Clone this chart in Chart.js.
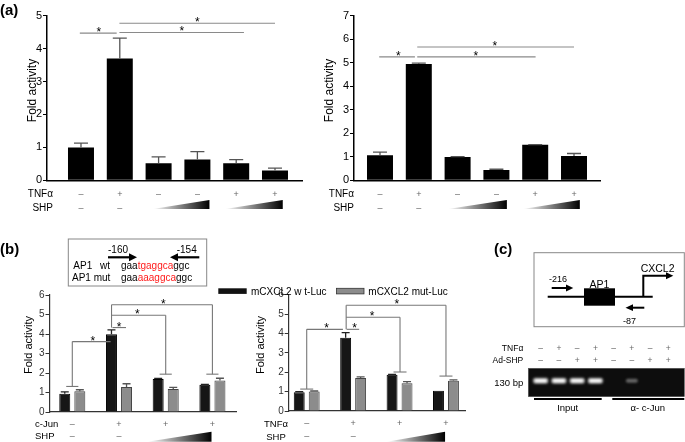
<!DOCTYPE html>
<html>
<head>
<meta charset="utf-8">
<script src="https://cdn.jsdelivr.net/npm/chart.js@4/dist/chart.umd.min.js"></script>
<style>
  body { margin: 0; background: #fff; }
  #page { position: relative; width: 685px; height: 442px; overflow: hidden; }
  canvas, svg { position: absolute; }
</style>
</head>
<body>
<div id="page">
  <canvas id="aLeft" width="340" height="225" style="left:0;top:0"></canvas>
  <canvas id="aRight" width="370" height="225" style="left:315px;top:0"></canvas>
  <canvas id="bLeft" width="240" height="157" style="left:0;top:285px"></canvas>
  <canvas id="bRight" width="230" height="157" style="left:240px;top:285px"></canvas>

  <svg width="685" height="442" style="left:0;top:0" font-family="Liberation Sans, Arial, sans-serif">
    <defs>
      <filter id="glow" x="-50%" y="-100%" width="200%" height="300%"><feGaussianBlur stdDeviation="0.9"/></filter>
    </defs>
    <text x="0" y="14.5" font-size="15" font-weight="bold">(a)</text>
    <text x="0" y="254" font-size="15" font-weight="bold">(b)</text>
    <text x="494" y="254" font-size="15" font-weight="bold">(c)</text>

    <!-- legend of panel b -->
    <rect x="218.3" y="288.3" width="28.4" height="5.6" fill="#111"/>
    <text id="leg0" x="251" y="294.8" font-size="10"></text>
    <rect x="336.5" y="288.3" width="27.5" height="5.6" fill="#8c8c8c" stroke="#333" stroke-width="0.8"/>
    <text id="leg1" x="368.3" y="294.8" font-size="10"></text>

    <!-- AP1 site inset -->
    <rect x="68.3" y="239" width="138.4" height="47" fill="none" stroke="#888" stroke-width="1"/>
    <text x="108" y="252.5" font-size="10">-160</text>
    <line x1="108" y1="257.3" x2="130" y2="257.3" stroke="#000" stroke-width="2.2"/>
    <polygon points="129,253.3 137,257.3 129,261.3"/>
    <text x="176.7" y="252.5" font-size="10">-154</text>
    <line x1="177" y1="257.3" x2="199.3" y2="257.3" stroke="#000" stroke-width="2.2"/>
    <polygon points="178,253.3 170,257.3 178,261.3"/>
    <text x="73.3" y="269.2" font-size="10">AP1</text>
    <text x="100" y="269.2" font-size="10">wt</text>
    <text x="121" y="269.2" font-size="10">gaa<tspan fill="#ff1a1a">tgaggca</tspan>ggc</text>
    <text x="72" y="280.8" font-size="10">AP1 mut</text>
    <text x="121" y="280.8" font-size="10">gaa<tspan fill="#ff1a1a">aaaggca</tspan>ggc</text>

    <!-- panel c promoter diagram -->
    <rect x="534" y="252.7" width="150.3" height="74" fill="none" stroke="#888" stroke-width="1"/>
    <line x1="547.7" y1="296.7" x2="652.7" y2="296.7" stroke="#000" stroke-width="2"/>
    <rect x="584" y="288.3" width="31" height="17.4" fill="#000"/>
    <text x="599.5" y="287.8" font-size="10.5" text-anchor="middle">AP1</text>
    <text x="549" y="281.5" font-size="9">-216</text>
    <line x1="551.7" y1="288" x2="567" y2="288" stroke="#000" stroke-width="2"/>
    <polygon points="566,284.6 573.3,288 566,291.4"/>
    <text x="640.7" y="271.5" font-size="10.5">CXCL2</text>
    <path d="M643.3 296.7 V275.7 H667" fill="none" stroke="#000" stroke-width="2"/>
    <polygon points="666,272.2 673.3,275.7 666,279.2"/>
    <line x1="632" y1="307.7" x2="644.3" y2="307.7" stroke="#000" stroke-width="2"/>
    <polygon points="633,304.3 625.5,307.7 633,311.1"/>
    <text x="623" y="323.5" font-size="9">-87</text>

    <!-- ChIP gel -->
    <g id="gelRows" font-size="8.5"></g>
    <text x="523.3" y="385.5" font-size="9.5" text-anchor="end">130 bp</text>
    <rect x="528.3" y="368.3" width="156" height="28.4" fill="#0d0d0d" stroke="#555" stroke-width="0.6"/>
    <g id="bands"></g>
    <line x1="534" y1="399" x2="601.7" y2="399" stroke="#000" stroke-width="2"/>
    <line x1="612.3" y1="399" x2="684.3" y2="399" stroke="#000" stroke-width="2"/>
    <text x="567.7" y="411" font-size="9.5" text-anchor="middle">Input</text>
    <text x="647.7" y="411" font-size="9.5" text-anchor="middle">α- c-Jun</text>
  </svg>
</div>

<script>
const FONT = "'Liberation Sans', Arial, sans-serif";

// (a) left: TNFα / SHP, fold activity
const aLeftValues = [1.00, 3.70, 0.52, 0.63, 0.52, 0.30];
const aLeftErrors = [0.13, 0.62, 0.19, 0.24, 0.11, 0.07];
// (a) right
const aRightValues = [1.07, 4.95, 0.99, 0.44, 1.51, 1.03];
const aRightErrors = [0.13, 0.03, 0.02, 0.03, 0.01, 0.11];
// (b) left: c-Jun / SHP
const bLeftWt = [0.93, 3.99, 1.69, 1.40];
const bLeftWtErr = [0.10, 0.22, 0.03, 0.01];
const bLeftMut = [1.07, 1.28, 1.18, 1.62];
const bLeftMutErr = [0.07, 0.17, 0.08, 0.11];
// (b) right: TNFα / SHP
const bRightWt = [0.97, 3.78, 1.87, 1.05];
const bRightWtErr = [0.03, 0.26, 0.02, 0.00];
const bRightMut = [1.00, 1.70, 1.43, 1.56];
const bRightMutErr = [0.03, 0.06, 0.08, 0.04];

const seriesNames = ["mCXCL2 w t-Luc", "mCXCL2 mut-Luc"];
const tnfA = ["–", "+", "–", "–", "+", "+"];
const shpA = ["–", "–"];
const cJunB = ["–", "+", "+", "+"];
const tnfB = ["–", "+", "+", "+"];
const shpB = ["–", "–"];
const gelTnf = ["–", "+", "–", "+", "–", "+", "–", "+"];
const gelShp = ["–", "–", "+", "+", "–", "–", "+", "+"];

// error bars, significance lines, treatment rows, wedges, axis title
function figure(o) {
  return {
    id: "figure",
    afterDatasetsDraw(chart) {
      const ctx = chart.ctx;
      const px = v => chart.scales.x.getPixelForValue(v);
      const py = v => chart.scales.y.getPixelForValue(v);
      const dx = o.box[0], dy = o.box[1];
      ctx.save();

      chart.data.datasets.forEach((ds, di) => {
        chart.getDatasetMeta(di).data.forEach((bar, i) => {
          const e = ds.errors[i];
          if (!e) return;
          const top = py(ds.data[i].y + e);
          ctx.strokeStyle = ds.errorColor;
          ctx.lineWidth = 1.3;
          ctx.beginPath();
          ctx.moveTo(bar.x, bar.y);
          ctx.lineTo(bar.x, top);
          ctx.moveTo(bar.x - o.cap / 2, top);
          ctx.lineTo(bar.x + o.cap / 2, top);
          ctx.stroke();
        });
      });

      ctx.strokeStyle = o.lineColor;
      ctx.lineWidth = 1.1;
      o.lines.forEach(l => {
        ctx.beginPath();
        ctx.moveTo(px(l[0]), py(l[1]));
        ctx.lineTo(px(l[2]), py(l[3]));
        ctx.stroke();
      });

      ctx.fillStyle = "#000";
      ctx.font = "12px " + FONT;
      ctx.textAlign = "center";
      ctx.textBaseline = "alphabetic";
      o.stars.forEach(s => ctx.fillText("*", px(s[0]), py(s[1]) + 3));

      o.rows.forEach(r => {
        ctx.font = o.labelFont;
        ctx.fillStyle = "#000";
        ctx.textAlign = r.align;
        ctx.textBaseline = "middle";
        ctx.fillText(r.label, r.lx - dx, r.y - dy);
        ctx.font = "9px " + FONT;
        ctx.fillStyle = "#666";
        ctx.textAlign = "center";
        r.signs.forEach((s, i) => ctx.fillText(s, px(i), r.y - dy));
      });

      o.wedges.forEach(w => {
        const x1 = px(w[0]), x2 = px(w[1]);
        const top = o.wedgeY[0] - dy, bottom = o.wedgeY[1] - dy;
        const g = ctx.createLinearGradient(x1, 0, x2, 0);
        g.addColorStop(0, "#ffffff");
        g.addColorStop(1, "#000000");
        ctx.fillStyle = g;
        ctx.beginPath();
        ctx.moveTo(x1, bottom);
        ctx.lineTo(x2, bottom);
        ctx.lineTo(x2, top);
        ctx.closePath();
        ctx.fill();
      });

      ctx.translate(o.title[0] - dx, o.title[1] - dy);
      ctx.rotate(-Math.PI / 2);
      ctx.font = o.titleFont;
      ctx.fillStyle = "#000";
      ctx.textAlign = "center";
      ctx.textBaseline = "middle";
      ctx.fillText("Fold activity", 0, 0);
      ctx.restore();
    }
  };
}

function points(values) {
  return values.map((v, i) => ({ x: i, y: v }));
}

// box = canvas rect on the page, frame = [axis x, top y, right x, bottom y]
function panel(id, box, frame, datasets, xr, yMax, st, extra) {
  const n = datasets[0].data.length;
  return new Chart(document.getElementById(id), {
    type: "bar",
    data: { datasets },
    options: {
      responsive: false,
      animation: false,
      devicePixelRatio: 1,
      categoryPercentage: st.cat,
      barPercentage: st.bar,
      layout: {
        padding: {
          left: 0,
          top: frame[1] - box[1],
          right: box[0] + box[2] - frame[2],
          bottom: box[1] + box[3] - frame[3]
        }
      },
      plugins: { legend: { display: false }, tooltip: { enabled: false } },
      scales: {
        x: {
          type: "linear",
          min: xr[0],
          max: xr[1],
          offset: false,
          ticks: { display: false },
          grid: { display: false },
          border: { color: st.axis, width: st.axisWidth },
          afterBuildTicks: s => { s.ticks = Array.from({ length: n }, (_, i) => ({ value: i })); },
          afterFit: s => { s.height = 0; }
        },
        y: {
          min: 0,
          max: yMax,
          ticks: { stepSize: 1, color: st.tick, padding: 1, font: { family: FONT, size: st.tickSize } },
          grid: { drawOnChartArea: false, tickLength: 4, color: st.axis, lineWidth: 1 },
          border: { color: st.axis, width: st.axisWidth },
          afterFit: s => { s.width = frame[0] - box[0]; }
        }
      }
    },
    plugins: [figure(Object.assign({ box }, extra))]
  });
}

const styleA = { cat: 0.67, bar: 1, axis: "#000", axisWidth: 1.5, tick: "#000", tickSize: 11 };
const styleB = { cat: 0.645, bar: 0.73, axis: "#333", axisWidth: 1.2, tick: "#333", tickSize: 10 };

function blackSet(values, errors, errorColor) {
  return { data: points(values), errors, errorColor, backgroundColor: "#000", borderWidth: 0 };
}

panel("aLeft", [0, 0, 340, 225], [47, 15.7, 302, 180.3],
  [blackSet(aLeftValues, aLeftErrors, "#555")], [-0.876, 5.696], 5, styleA, {
    cap: 14, lineColor: "#8a8a8a", labelFont: "10px " + FONT, titleFont: "12px " + FONT,
    title: [32.3, 90.5],
    lines: [[-0.03, 4.47, 0.92, 4.47], [0.99, 4.49, 4.2, 4.49], [0.99, 4.77, 5.0, 4.77]],
    stars: [[0.46, 4.47], [2.6, 4.49], [3.0, 4.77]],
    rows: [
      { label: "TNFα", lx: 53, align: "right", y: 194.3, signs: tnfA },
      { label: "SHP", lx: 53, align: "right", y: 208.3, signs: shpA }
    ],
    wedges: [[1.85, 3.31], [3.71, 5.2]], wedgeY: [200, 209]
  });

panel("aRight", [315, 0, 370, 225], [354, 15.7, 600, 180.3],
  [blackSet(aRightValues, aRightErrors, "#555")], [-0.67, 5.67], 7, styleA, {
    cap: 14, lineColor: "#8a8a8a", labelFont: "10px " + FONT, titleFont: "12px " + FONT,
    title: [330, 90.5],
    lines: [[-0.02, 5.25, 0.9, 5.25], [0.96, 5.25, 4.01, 5.25], [0.96, 5.67, 5.0, 5.67]],
    stars: [[0.47, 5.25], [2.47, 5.25], [2.96, 5.67]],
    rows: [
      { label: "TNFα", lx: 354, align: "right", y: 194.3, signs: tnfA },
      { label: "SHP", lx: 354, align: "right", y: 208.3, signs: shpA }
    ],
    wedges: [[1.75, 3.27], [3.68, 5.15]], wedgeY: [200, 209]
  });

function groupSets(wt, wtErr, mut, mutErr) {
  return [
    { data: points(wt), errors: wtErr, errorColor: "#222", backgroundColor: "#161616", borderColor: "#000", borderWidth: 1 },
    { data: points(mut), errors: mutErr, errorColor: "#555", backgroundColor: "#8c8c8c", borderColor: "#444", borderWidth: 1 }
  ];
}

panel("bLeft", [0, 285, 240, 157], [49.5, 295, 236.7, 412],
  groupSets(bLeftWt, bLeftWtErr, bLeftMut, bLeftMutErr), [-0.488, 3.52], 6, styleB, {
    cap: 8, lineColor: "#777", labelFont: "9.5px " + FONT, titleFont: "11px " + FONT,
    title: [28.7, 345],
    lines: [
      [0, 1.31, 0, 3.61], [-0.13, 1.31, 0.13, 1.31], [0, 3.61, 0.82, 3.61],
      [0.86, 4.33, 1.15, 4.33], [0.84, 5.5, 0.84, 4.33],
      [0.84, 4.96, 2.0, 4.96], [2.0, 4.96, 2.0, 1.94], [1.87, 1.94, 2.13, 1.94],
      [0.84, 5.5, 3.0, 5.5], [3.0, 5.5, 3.0, 1.94], [2.87, 1.94, 3.13, 1.94]
    ],
    stars: [[0.44, 3.61], [1.0, 4.33], [1.39, 4.96], [1.95, 5.5]],
    rows: [
      { label: "c-Jun", lx: 35, align: "left", y: 424.3, signs: cJunB },
      { label: "SHP", lx: 35, align: "left", y: 436.5, signs: shpB }
    ],
    wedges: [[1.6, 2.98]], wedgeY: [431.7, 441.7]
  });

panel("bRight", [240, 285, 230, 157], [288.7, 294.6, 465, 411],
  groupSets(bRightWt, bRightWtErr, bRightMut, bRightMutErr), [-0.388, 3.41], 6, styleB, {
    cap: 8, lineColor: "#777", labelFont: "9.5px " + FONT, titleFont: "11px " + FONT,
    title: [261.3, 345],
    lines: [
      [0, 1.13, 0, 4.21], [-0.14, 1.13, 0.14, 1.13], [0, 4.21, 0.78, 4.21],
      [0.86, 4.21, 1.13, 4.21], [0.85, 5.45, 0.85, 4.21],
      [0.85, 4.83, 2.01, 4.83], [2.01, 4.83, 2.01, 2.01], [1.87, 2.01, 2.15, 2.01],
      [0.85, 5.45, 3.0, 5.45], [3.0, 5.45, 3.0, 1.80], [2.86, 1.80, 3.14, 1.80]
    ],
    stars: [[0.43, 4.21], [1.03, 4.21], [1.41, 4.83], [1.94, 5.45]],
    rows: [
      { label: "TNFα", lx: 276, align: "center", y: 424, signs: tnfB },
      { label: "SHP", lx: 276, align: "center", y: 437, signs: shpB }
    ],
    wedges: [[1.72, 2.98]], wedgeY: [431.7, 441.7]
  });

// legend text, gel rows and bands
document.getElementById("leg0").textContent = seriesNames[0];
document.getElementById("leg1").textContent = seriesNames[1];

const NS = "http://www.w3.org/2000/svg";
function svgEl(parent, tag, attrs, text) {
  const el = document.createElementNS(NS, tag);
  for (const k in attrs) el.setAttribute(k, attrs[k]);
  if (text) el.textContent = text;
  parent.appendChild(el);
  return el;
}
const rows = document.getElementById("gelRows");
const lanes = gelTnf.map((_, i) => 540.7 + i * 18.23);
svgEl(rows, "text", { x: 523.3, y: 351.2, "text-anchor": "end" }, "TNFα");
svgEl(rows, "text", { x: 523.3, y: 363, "text-anchor": "end" }, "Ad-SHP");
lanes.forEach((x, i) => {
  svgEl(rows, "text", { x, y: 351.2, "text-anchor": "middle", fill: "#666" }, gelTnf[i]);
  svgEl(rows, "text", { x, y: 363, "text-anchor": "middle", fill: "#666" }, gelShp[i]);
});
const bands = document.getElementById("bands");
[0, 1, 2, 3].forEach(i => {
  svgEl(bands, "rect", { x: lanes[i] - 8, y: 377.5, width: 16, height: 6.5, rx: 3, fill: "#777", filter: "url(#glow)" });
  svgEl(bands, "rect", { x: lanes[i] - 6.5, y: 379, width: 13, height: 3.5, rx: 1.7, fill: "#fff", filter: "url(#glow)" });
});
svgEl(bands, "rect", { x: lanes[5] - 6, y: 378.8, width: 12, height: 4, rx: 2, fill: "#888", opacity: 0.7, filter: "url(#glow)" });
</script>
</body>
</html>
